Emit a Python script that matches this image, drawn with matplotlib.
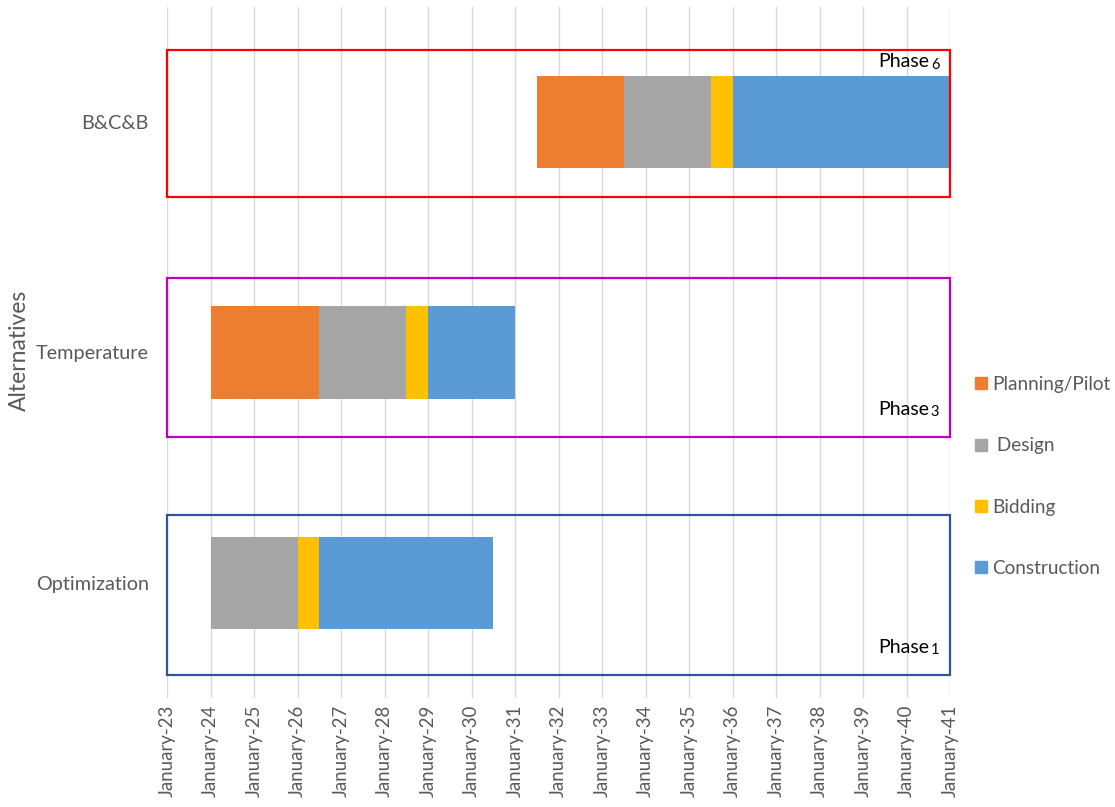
import matplotlib
matplotlib.use("Agg")
import matplotlib.pyplot as plt
from matplotlib.patches import Rectangle
from matplotlib.lines import Line2D

# ---- data ----
categories = ["Optimization", "Temperature", "B&C&B"]
start_year = [2024.0, 2024.0, 2031.5]
planning = [0.0, 2.5, 2.0]
design = [2.0, 2.0, 2.0]
bidding = [0.5, 0.5, 0.5]
construction = [4.0, 2.0, 5.0]
series_names = ["Planning/Pilot", " Design", "Bidding", "Construction"]
series_colors = ["#ED7D31", "#A5A5A5", "#FFC000", "#5B9BD5"]
tick_years = list(range(2023, 2042))
tick_labels = [f"January-{y % 100:02d}" for y in tick_years]
phase_numbers = ["1", "3", "6"]
box_colors = ["#2F5597", "#C000C0", "#FF0000"]
box_bottom = [-0.40, 0.631, 1.676]
box_top = [0.295, 1.322, 2.312]
phase_label_y = [-0.28, 0.753, 2.262]

plt.rcParams['font.family'] = ['Lato', 'DejaVu Sans']

W, H = 1115, 807
fig = plt.figure(figsize=(W / 100, H / 100), dpi=100)
ax = fig.add_axes([167 / W, (H - 698) / H, (950 - 167) / W, (698 - 7) / H])

ypos = list(range(len(categories)))
left = list(start_year)
for vals, name, col in zip([planning, design, bidding, construction], series_names, series_colors):
    ax.barh(ypos, vals, left=left, height=0.4, color=col, edgecolor='none', zorder=3, label=name)
    left = [l + v for l, v in zip(left, vals)]

# phase boxes
for i in range(len(categories)):
    rect = Rectangle((tick_years[0], box_bottom[i]), tick_years[-1] - tick_years[0],
                     box_top[i] - box_bottom[i], fill=False, edgecolor=box_colors[i],
                     linewidth=1.6, zorder=4, clip_on=False)
    ax.add_patch(rect)
    ax.text(2040.52, phase_label_y[i], "Phase", ha='right', va='center', fontsize=14,
            color='black', zorder=5)
    ax.text(2040.56, phase_label_y[i] - 0.012, phase_numbers[i], ha='left', va='center',
            fontsize=10.5, color='black', zorder=5)

ax.set_xlim(tick_years[0], tick_years[-1])
ax.set_ylim(-0.5, 2.5)
ax.set_xticks(tick_years)
ax.set_xticklabels(tick_labels, rotation=90, fontsize=13.4, color='#595959')
ax.set_yticks(ypos)
ax.set_yticklabels(categories, fontsize=14.3, color='#595959')
ax.tick_params(axis='x', length=0, pad=5)
ax.tick_params(axis='y', length=0, pad=13)
ax.grid(axis='x', color='#D9D9D9', linewidth=1, zorder=0)
ax.set_axisbelow(True)
for s in ax.spines.values():
    s.set_visible(False)

fig.text(19 / W, 1 - 350 / H, "Alternatives", rotation=90, ha='center', va='center',
         fontsize=16.5, color='#595959')

handles = [Line2D([0], [0], marker='s', linestyle='none', markersize=8,
                  markerfacecolor=c, markeredgecolor=c) for c in series_colors]
fig.legend(handles, series_names, loc='upper left', bbox_to_anchor=(971 / W, 1 - 376 / H),
           frameon=False, fontsize=13.7, labelcolor='#595959', handletextpad=0.1,
           labelspacing=2.33, handlelength=1.0, borderpad=0, borderaxespad=0)

fig.savefig("out.png", dpi=100)
